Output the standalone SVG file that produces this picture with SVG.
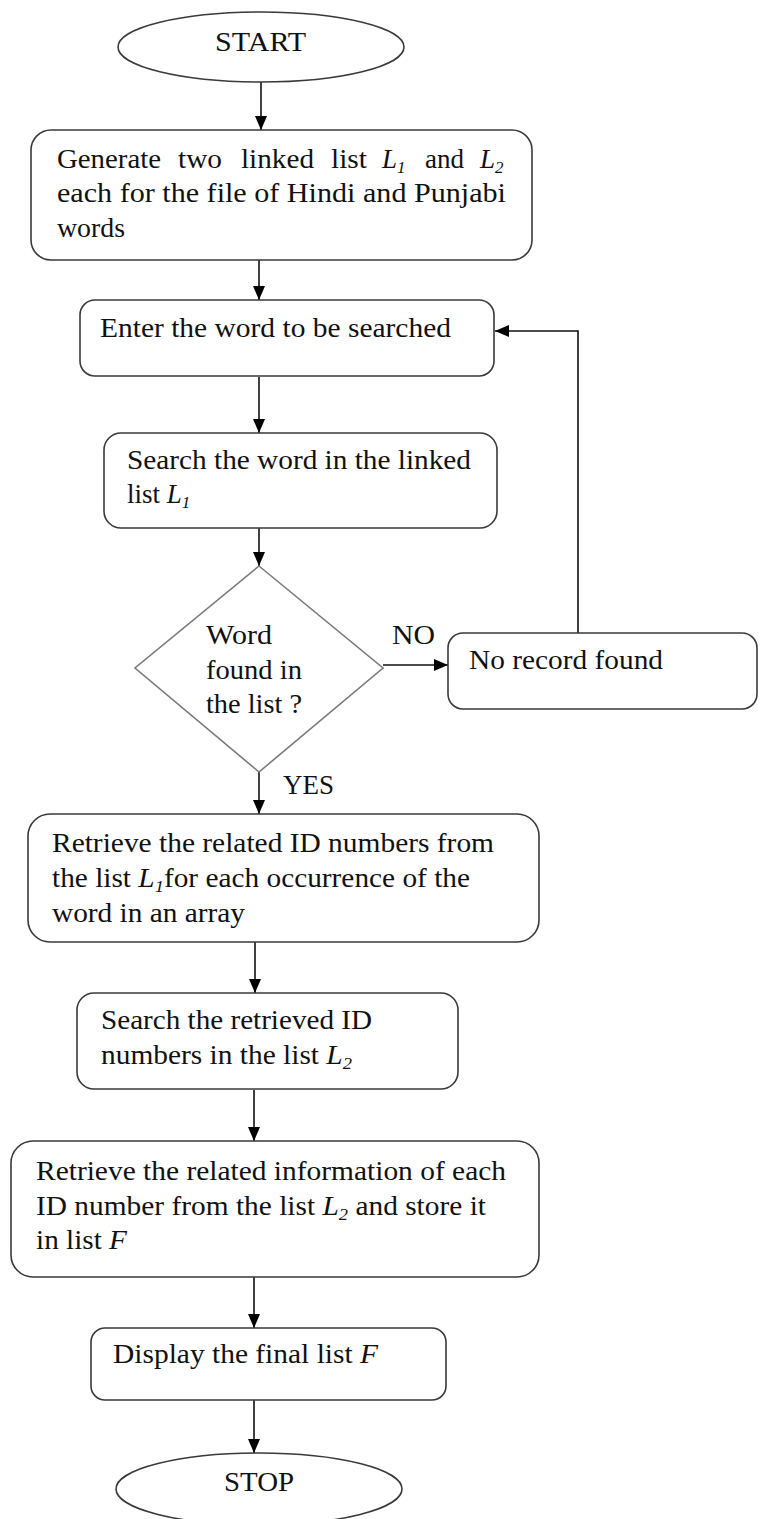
<svg xmlns="http://www.w3.org/2000/svg" width="783" height="1519" viewBox="0 0 783 1519">
<style>
.box{fill:#fff;stroke:#3a3a3a;stroke-width:1.6}
.dia{fill:#fff;stroke:#7a7a7a;stroke-width:1.6}
.t{font-family:"Liberation Serif","Times New Roman",serif;font-size:27px;fill:#111}
.i{font-style:italic}
.s{font-style:italic;font-size:17px}
.c{fill:none;stroke:#111;stroke-width:1.6}
</style>
<defs>
<marker id="ah" viewBox="0 0 14 12" refX="14" refY="6" markerWidth="14" markerHeight="12" markerUnits="userSpaceOnUse" orient="auto">
<path d="M0,0 L14,6 L0,12 z" fill="#000"/>
</marker>
</defs>
<rect width="783" height="1519" fill="#fff"/>
<g id="connectors">
<line class="c" x1="261" y1="82" x2="261" y2="130" marker-end="url(#ah)"/>
<line class="c" x1="259" y1="260" x2="259" y2="300" marker-end="url(#ah)"/>
<line class="c" x1="259" y1="377" x2="259" y2="433" marker-end="url(#ah)"/>
<line class="c" x1="259" y1="528" x2="259" y2="566" marker-end="url(#ah)"/>
<line class="c" x1="383" y1="665" x2="448" y2="665" marker-end="url(#ah)"/>
<polyline class="c" points="578,633 578,331 495,331" marker-end="url(#ah)"/>
<line class="c" x1="259" y1="772" x2="259" y2="814" marker-end="url(#ah)"/>
<line class="c" x1="255" y1="942" x2="255" y2="993" marker-end="url(#ah)"/>
<line class="c" x1="254" y1="1090" x2="254" y2="1141" marker-end="url(#ah)"/>
<line class="c" x1="254" y1="1277" x2="254" y2="1328" marker-end="url(#ah)"/>
<line class="c" x1="254" y1="1400" x2="254" y2="1453" marker-end="url(#ah)"/>
<text class="t" x="392" y="644" textLength="43" lengthAdjust="spacingAndGlyphs">NO</text>
<text class="t" x="283" y="794" textLength="51" lengthAdjust="spacingAndGlyphs">YES</text>
</g>
<g id="start">
<ellipse class="box" cx="261" cy="47" rx="143" ry="35"/>
<text class="t" x="215" y="51" textLength="91" lengthAdjust="spacingAndGlyphs">START</text>
</g>
<g id="generate">
<rect class="box" x="31" y="130" width="501" height="130" rx="20"/>
<text class="t" y="168"><tspan x="57" textLength="104" lengthAdjust="spacingAndGlyphs">Generate</tspan><tspan x="178" textLength="44" lengthAdjust="spacingAndGlyphs">two</tspan><tspan x="241" textLength="73" lengthAdjust="spacingAndGlyphs">linked</tspan><tspan x="331" textLength="36" lengthAdjust="spacingAndGlyphs">list</tspan><tspan x="382" class="i">L</tspan><tspan class="s" dy="5">1</tspan><tspan x="425" dy="-5" textLength="39" lengthAdjust="spacingAndGlyphs">and</tspan><tspan x="480" class="i">L</tspan><tspan class="s" dy="5">2</tspan></text>
<text class="t" x="57" y="202" textLength="449" lengthAdjust="spacingAndGlyphs">each for the file of Hindi and Punjabi</text>
<text class="t" x="57" y="237" textLength="68" lengthAdjust="spacingAndGlyphs">words</text>
</g>
<g id="enter">
<rect class="box" x="80" y="300" width="414" height="76" rx="15"/>
<text class="t" x="100" y="337" textLength="351" lengthAdjust="spacingAndGlyphs">Enter the word to be searched</text>
</g>
<g id="search1">
<rect class="box" x="104" y="433" width="393" height="95" rx="17"/>
<text class="t" x="127" y="469" textLength="344" lengthAdjust="spacingAndGlyphs">Search the word in the linked</text>
<text class="t" x="127" y="503">list <tspan class="i">L</tspan><tspan class="s" dy="5">1</tspan></text>
</g>
<g id="decision">
<polygon class="dia" points="259,566 383,668 259,772 135,668"/>
<text class="t" x="206" y="644" textLength="66" lengthAdjust="spacingAndGlyphs">Word</text>
<text class="t" x="206" y="679" textLength="96" lengthAdjust="spacingAndGlyphs">found in</text>
<text class="t" x="206" y="713" textLength="96" lengthAdjust="spacingAndGlyphs">the list ?</text>
</g>
<g id="norecord">
<rect class="box" x="448" y="633" width="309" height="76" rx="15"/>
<text class="t" x="469" y="669" textLength="194" lengthAdjust="spacingAndGlyphs">No record found</text>
</g>
<g id="retrieveid">
<rect class="box" x="28" y="814" width="511" height="128" rx="22"/>
<text class="t" x="52" y="852" textLength="442" lengthAdjust="spacingAndGlyphs">Retrieve the related ID numbers from</text>
<text class="t" x="52" y="887" textLength="418" lengthAdjust="spacingAndGlyphs">the list <tspan class="i">L</tspan><tspan class="s" dy="5">1</tspan><tspan dy="-5">for each occurrence of the</tspan></text>
<text class="t" x="52" y="922" textLength="193" lengthAdjust="spacingAndGlyphs">word in an array</text>
</g>
<g id="search2">
<rect class="box" x="77" y="993" width="381" height="96" rx="17"/>
<text class="t" x="101" y="1029" textLength="271" lengthAdjust="spacingAndGlyphs">Search the retrieved ID</text>
<text class="t" x="101" y="1064" textLength="251" lengthAdjust="spacingAndGlyphs">numbers in the list <tspan class="i">L</tspan><tspan class="s" dy="5">2</tspan></text>
</g>
<g id="retrieveinfo">
<rect class="box" x="11" y="1141" width="528" height="136" rx="22"/>
<text class="t" x="36" y="1180" textLength="470" lengthAdjust="spacingAndGlyphs">Retrieve the related information of each</text>
<text class="t" x="36" y="1215" textLength="450" lengthAdjust="spacingAndGlyphs">ID number from the list <tspan class="i">L</tspan><tspan class="s" dy="5">2</tspan><tspan dy="-5"> and store it</tspan></text>
<text class="t" x="36" y="1249" textLength="91" lengthAdjust="spacingAndGlyphs">in list <tspan class="i">F</tspan></text>
</g>
<g id="display">
<rect class="box" x="91" y="1328" width="355" height="72" rx="14"/>
<text class="t" x="113" y="1363" textLength="265" lengthAdjust="spacingAndGlyphs">Display the final list <tspan class="i">F</tspan></text>
</g>
<g id="stop">
<ellipse class="box" cx="259" cy="1489" rx="143" ry="36"/>
<text class="t" x="224" y="1491" textLength="70" lengthAdjust="spacingAndGlyphs">STOP</text>
</g>
</svg>
